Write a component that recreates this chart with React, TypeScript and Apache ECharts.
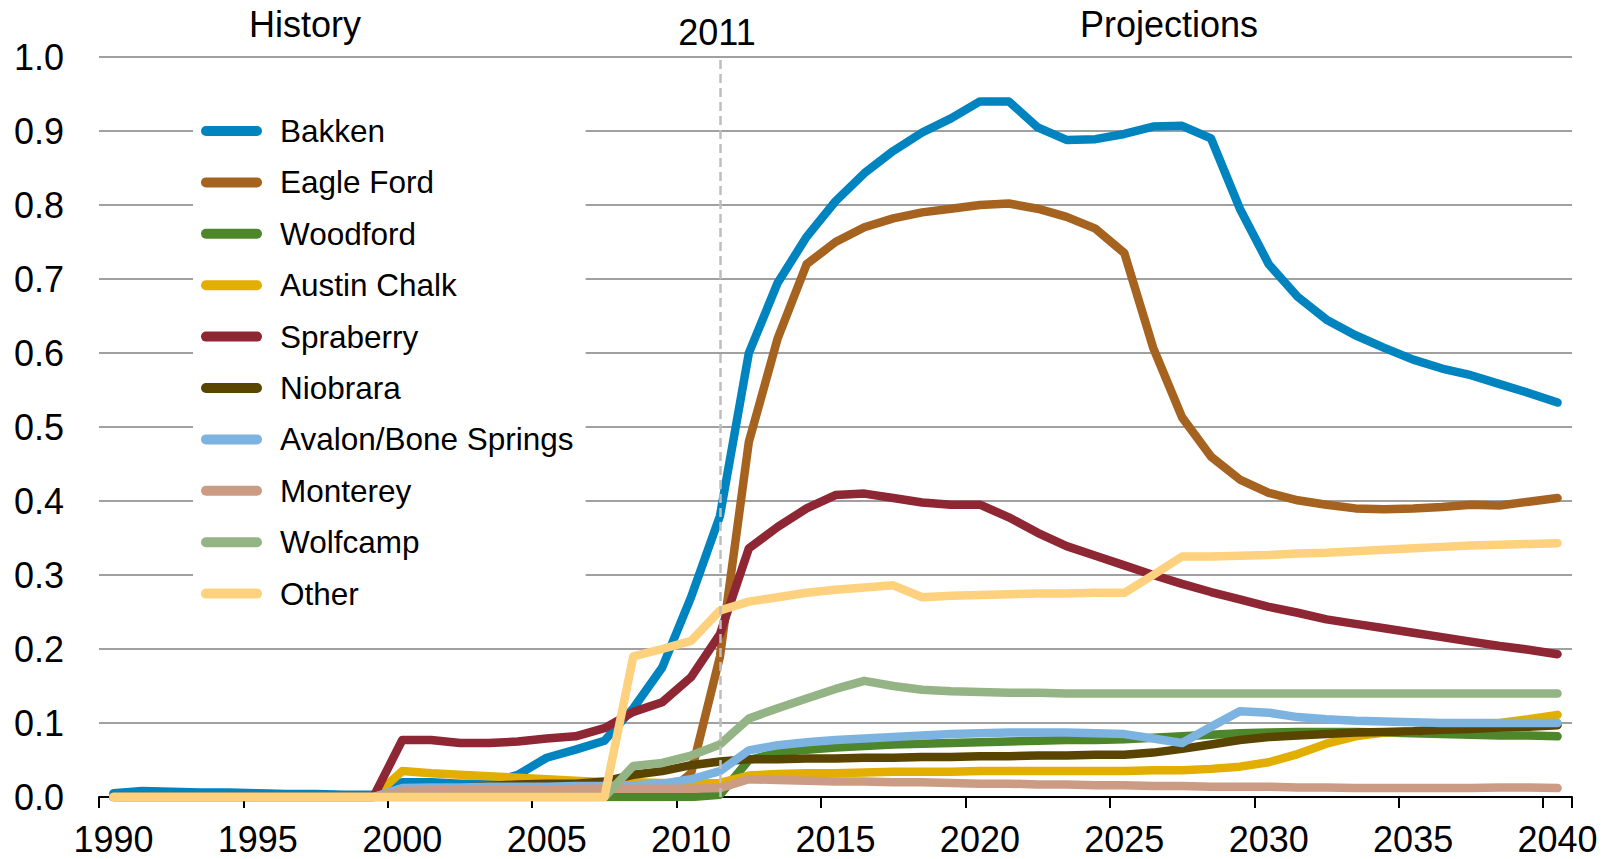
import React, { useEffect, useRef } from "react";
import * as echarts from "echarts";

const years = [
  "1990", "1991", "1992", "1993", "1994", "1995", "1996", "1997", "1998", "1999",
  "2000", "2001", "2002", "2003", "2004", "2005", "2006", "2007", "2008", "2009",
  "2010", "2011", "2012", "2013", "2014", "2015", "2016", "2017", "2018", "2019",
  "2020", "2021", "2022", "2023", "2024", "2025", "2026", "2027", "2028", "2029",
  "2030", "2031", "2032", "2033", "2034", "2035", "2036", "2037", "2038", "2039",
  "2040",
];

const bakken = [
  0.005, 0.008, 0.007, 0.006, 0.006, 0.005, 0.004, 0.004, 0.003, 0.003,
  0.02, 0.02, 0.018, 0.018, 0.03, 0.053, 0.064, 0.076, 0.12, 0.175,
  0.27, 0.38, 0.6, 0.695, 0.757, 0.805, 0.843, 0.873, 0.898, 0.917,
  0.94, 0.94, 0.905, 0.888, 0.889, 0.896, 0.906, 0.907, 0.89, 0.795,
  0.72, 0.676, 0.645, 0.624, 0.607, 0.591, 0.579, 0.57, 0.558, 0.546,
  0.533,
];

const eagleFord = [
  0, 0, 0, 0, 0, 0, 0, 0, 0, 0,
  0, 0, 0, 0, 0, 0, 0, 0, 0, 0,
  0.032, 0.19, 0.48, 0.62, 0.72, 0.75, 0.77, 0.782, 0.79, 0.795,
  0.8, 0.802, 0.795, 0.784, 0.768, 0.735, 0.607, 0.513, 0.46, 0.429,
  0.411, 0.401, 0.395, 0.39, 0.389, 0.39, 0.392, 0.395, 0.394, 0.399,
  0.404,
];

const woodford = [
  0, 0, 0, 0, 0, 0, 0, 0, 0, 0,
  0, 0, 0, 0, 0, 0, 0, 0, 0, 0,
  0, 0.003, 0.05, 0.06, 0.064, 0.067, 0.069, 0.071, 0.072, 0.073,
  0.074, 0.075, 0.076, 0.077, 0.077, 0.078, 0.08, 0.082, 0.084, 0.086,
  0.087, 0.088, 0.088, 0.088, 0.087, 0.086, 0.085, 0.084, 0.083, 0.083,
  0.082,
];

const austinChalk = [
  0, 0, 0, 0, 0, 0, 0, 0, 0, 0,
  0.035, 0.032, 0.03, 0.028, 0.026, 0.024, 0.022, 0.02, 0.02, 0.019,
  0.018, 0.019, 0.029, 0.031, 0.032, 0.032, 0.033, 0.034, 0.034, 0.034,
  0.035, 0.035, 0.035, 0.035, 0.035, 0.035, 0.036, 0.036, 0.038, 0.041,
  0.047, 0.058, 0.072, 0.082, 0.087, 0.089, 0.092, 0.096, 0.1, 0.105,
  0.111,
];

const spraberry = [
  0, 0, 0, 0, 0, 0, 0, 0, 0, 0,
  0.077, 0.077, 0.073, 0.073, 0.075, 0.079, 0.082, 0.093, 0.115, 0.128,
  0.162, 0.22, 0.336, 0.365, 0.39, 0.408, 0.41, 0.404, 0.398, 0.395,
  0.395, 0.378, 0.357, 0.339, 0.326, 0.313, 0.3, 0.288, 0.277, 0.267,
  0.257, 0.249, 0.24, 0.234, 0.228, 0.222, 0.216, 0.21, 0.204, 0.199,
  0.193,
];

const niobrara = [
  0, 0, 0, 0, 0, 0, 0, 0, 0, 0,
  0.01, 0.012, 0.013, 0.015, 0.017, 0.018, 0.018, 0.021, 0.03, 0.035,
  0.043, 0.048, 0.051, 0.051, 0.052, 0.052, 0.053, 0.053, 0.054, 0.054,
  0.055, 0.055, 0.056, 0.056, 0.057, 0.057, 0.06, 0.065, 0.071, 0.077,
  0.081, 0.083, 0.085, 0.087, 0.088, 0.089, 0.091, 0.092, 0.094, 0.095,
  0.097,
];

const avalonBoneSprings = [
  0, 0, 0, 0, 0, 0, 0, 0, 0, 0,
  0.012, 0.013, 0.013, 0.014, 0.014, 0.014, 0.015, 0.015, 0.016, 0.018,
  0.024, 0.035, 0.063, 0.07, 0.074, 0.077, 0.079, 0.081, 0.083, 0.085,
  0.086, 0.087, 0.087, 0.087, 0.086, 0.085, 0.079, 0.073, 0.095, 0.116,
  0.114, 0.108, 0.105, 0.103, 0.102, 0.101, 0.1, 0.1, 0.1, 0.1,
  0.1,
];

const monterey = [
  0, 0, 0, 0, 0, 0, 0, 0, 0, 0,
  0.008, 0.009, 0.01, 0.01, 0.01, 0.01, 0.011, 0.011, 0.011, 0.011,
  0.011, 0.012, 0.024, 0.023, 0.022, 0.021, 0.021, 0.02, 0.02, 0.019,
  0.018, 0.018, 0.017, 0.017, 0.016, 0.016, 0.015, 0.015, 0.014, 0.014,
  0.014, 0.013, 0.013, 0.012, 0.012, 0.012, 0.012, 0.012, 0.013, 0.013,
  0.012,
];

const wolfcamp = [
  0, 0, 0, 0, 0, 0, 0, 0, 0, 0,
  0, 0, 0, 0, 0, 0, 0, 0, 0.042, 0.046,
  0.056, 0.071, 0.106, 0.12, 0.133, 0.146, 0.157, 0.15, 0.145, 0.143,
  0.142, 0.141, 0.141, 0.14, 0.14, 0.14, 0.14, 0.14, 0.14, 0.14,
  0.14, 0.14, 0.14, 0.14, 0.14, 0.14, 0.14, 0.14, 0.14, 0.14,
  0.14,
];

const other = [
  0, 0, 0, 0, 0, 0, 0, 0, 0, 0,
  0, 0, 0, 0, 0, 0, 0, 0, 0.19, 0.2,
  0.211, 0.252, 0.264, 0.27, 0.276, 0.28, 0.283, 0.286, 0.27, 0.272,
  0.273, 0.274, 0.275, 0.275, 0.276, 0.276, 0.3, 0.325, 0.325, 0.326,
  0.327, 0.329, 0.33, 0.332, 0.334, 0.336, 0.338, 0.34, 0.341, 0.342,
  0.343,
];

const seriesNames = [
  "Bakken", "Eagle Ford", "Woodford", "Austin Chalk", "Spraberry",
  "Niobrara", "Avalon/Bone Springs", "Monterey", "Wolfcamp", "Other",
];
const seriesData = [
  bakken, eagleFord, woodford, austinChalk, spraberry,
  niobrara, avalonBoneSprings, monterey, wolfcamp, other,
];
const seriesColors = [
  "#0084C0", "#A5631F", "#4E862C", "#E2AE00", "#8E2634",
  "#594500", "#7DB3E1", "#CB9C83", "#94B486", "#FDD17E",
];

const yTicks = [0, 0.1, 0.2, 0.3, 0.4, 0.5, 0.6, 0.7, 0.8, 0.9, 1.0];
const markYear = "2011";
const headers = [
  { text: "History", x: 305, y: 24 },
  { text: "2011", x: 717, y: 32 },
  { text: "Projections", x: 1169, y: 24 },
];

const FONT = "'Liberation Sans', Arial, Helvetica, sans-serif";

export default function App() {
  const ref = useRef<HTMLDivElement>(null);
  useEffect(() => {
    if (!ref.current) return;
    const chart = echarts.init(ref.current, null, { renderer: "svg" });
    const series = seriesNames.map((name, i) => ({
      name,
      type: "line",
      data: seriesData[i],
      showSymbol: false,
      symbol: "none",
      color: seriesColors[i],
      lineStyle: { width: 8.5, color: seriesColors[i], cap: "round", join: "round" },
      z: 2 + i * 0.01,
      ...(i === 0
        ? {
            markLine: {
              silent: true,
              symbol: ["none", "none"],
              label: { show: false },
              lineStyle: { color: "#BEBEBE", width: 2.5, type: [9, 5] },
              data: [{ xAxis: markYear }],
            },
          }
        : {}),
    }));
    chart.setOption({
      animation: false,
      backgroundColor: "#fff",
      textStyle: { fontFamily: FONT },
      grid: { left: 99, right: 39, top: 57, bottom: 62, containLabel: false },
      legend: {
        orient: "vertical",
        left: 193,
        top: 95,
        padding: [20, 12, 20, 8],
        backgroundColor: "#ffffff",
        itemWidth: 61,
        itemHeight: 10,
        itemGap: 19.4,
        icon: "path://M5,0L56,0A5,5,0,0,1,56,10L5,10A5,5,0,0,1,5,0Z",
        textStyle: {
          fontFamily: FONT,
          fontSize: 31.5,
          color: "#000",
          lineHeight: 32,
          padding: [0, 0, 0, 13],
        },
        data: seriesNames,
      },
      xAxis: {
        type: "category",
        data: years,
        boundaryGap: true,
        axisLine: { show: true, lineStyle: { color: "#000", width: 2 } },
        axisTick: { show: true, interval: 4, length: 11, lineStyle: { color: "#000", width: 2 } },
        axisLabel: { interval: 4, fontSize: 36, color: "#000", margin: 24, fontFamily: FONT },
        splitLine: { show: false },
      },
      yAxis: {
        type: "value",
        min: yTicks[0],
        max: yTicks[yTicks.length - 1],
        interval: 0.1,
        axisLine: { show: false },
        axisTick: { show: false },
        axisLabel: {
          fontSize: 36,
          color: "#000",
          margin: 35,
          fontFamily: FONT,
          formatter: (v: number) => v.toFixed(1),
        },
        splitLine: { show: true, lineStyle: { color: "#A0A0A0", width: 2 } },
      },
      graphic: headers.map((h) => ({
        type: "text",
        x: h.x,
        y: h.y,
        style: {
          text: h.text,
          fontSize: 36,
          fontFamily: FONT,
          fill: "#000",
          align: "center",
          verticalAlign: "middle",
        },
      })),
      series,
    });
    return () => chart.dispose();
  }, []);
  return (
    <div
      ref={ref}
      style={{ position: "fixed", left: 0, top: 0, width: 1611, height: 859 }}
    />
  );
}
